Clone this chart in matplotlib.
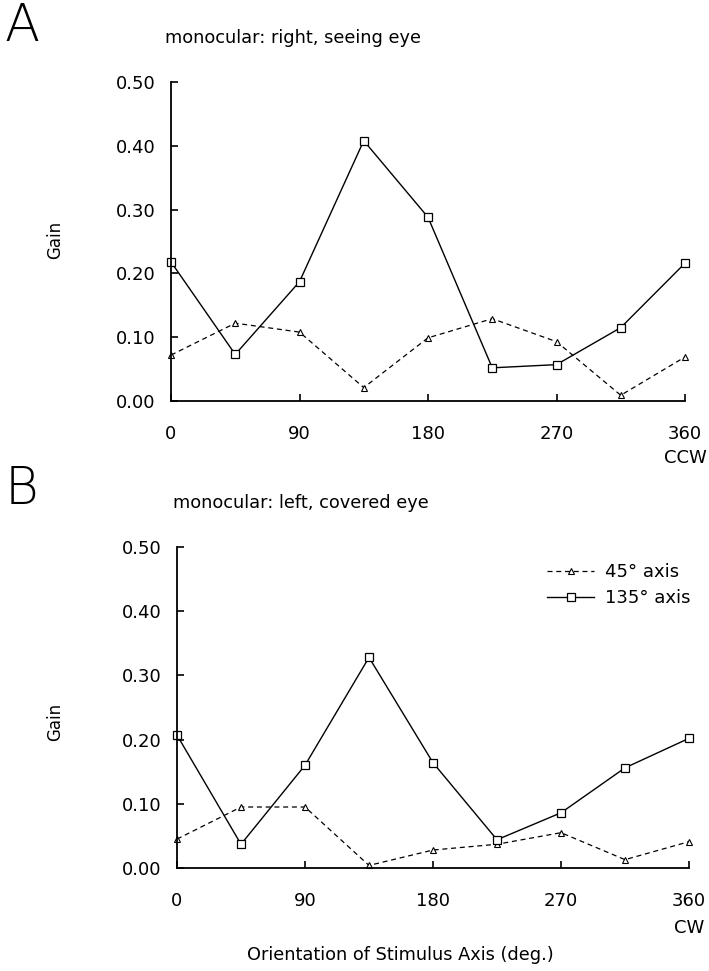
import numpy as np
import matplotlib
matplotlib.use("Agg")
import matplotlib.pyplot as plt

# ── data ----------------------------------------------------------------- #
angles = [0, 45, 90, 135, 180, 225, 270, 315, 360]

# panel A: monocular, right (seeing) eye
a_45  = [0.072, 0.122, 0.108, 0.021, 0.099, 0.129, 0.093, 0.009, 0.069]
a_135 = [0.218, 0.073, 0.187, 0.408, 0.288, 0.052, 0.057, 0.115, 0.216]

# panel B: monocular, left (covered) eye
b_45  = [0.045, 0.095, 0.095, 0.004, 0.028, 0.037, 0.055, 0.013, 0.041]
b_135 = [0.207, 0.037, 0.160, 0.328, 0.164, 0.044, 0.086, 0.156, 0.202]

xticks = [0, 90, 180, 270, 360]
yticks = [0.0, 0.1, 0.2, 0.3, 0.4, 0.5]

W, H = 709, 971
plt.rcParams["font.family"] = ["DejaVu Sans"]

fig = plt.figure(figsize=(W / 100, H / 100), dpi=100)


def px_axes(left, top, right, bottom):
    """add axes from pixel box (origin top-left)"""
    return fig.add_axes([left / W, 1 - bottom / H, (right - left) / W, (bottom - top) / H])


def draw_panel(ax, y45, y135):
    l45, = ax.plot(angles, y45, color="k", lw=0.9, ls=(0, (4, 3)),
                   marker="^", ms=4.5, mfc="white", mec="k", mew=0.8, clip_on=False)
    l135, = ax.plot(angles, y135, color="k", lw=1.0, ls="-",
                    marker="s", ms=5.5, mfc="white", mec="k", mew=0.9, clip_on=False)
    ax.set_xlim(0, 360)
    ax.set_ylim(0, 0.5)
    ax.set_xticks(xticks)
    ax.set_yticks(yticks)
    ax.set_yticklabels([f"{v:.2f}" for v in yticks])
    for s in ["top", "right"]:
        ax.spines[s].set_visible(False)
    ax.spines["left"].set_linewidth(1.3)
    ax.spines["bottom"].set_linewidth(1.3)
    ax.tick_params(axis="both", direction="in", length=5, width=1.2, labelsize=13)
    ax.tick_params(axis="y", pad=11)
    ax.tick_params(axis="x", pad=17)
    return l45, l135


# ── panel A ------------------------------------------------------------------ #
axA = px_axes(171, 82, 685, 401)
draw_panel(axA, a_45, a_135)
fig.text(4 / W, 1 - 27 / H, "A", fontsize=37, fontweight="light", va="center", ha="left")
fig.text(165 / W, 1 - 38 / H, "monocular: right, seeing eye", fontsize=12.8, va="center")
fig.text(55 / W, 1 - 240 / H, "Gain", fontsize=12, rotation=90, va="center", ha="center")
fig.text(685 / W, 1 - 458 / H, "CCW", fontsize=13, va="center", ha="center")

# ── panel B ------------------------------------------------------------------ #
axB = px_axes(177, 547, 689, 868)
l45, l135 = draw_panel(axB, b_45, b_135)
fig.text(5 / W, 1 - 490 / H, "B", fontsize=37, fontweight="light", va="center", ha="left")
fig.text(173 / W, 1 - 503 / H, "monocular: left, covered eye", fontsize=12.8, va="center")
fig.text(55 / W, 1 - 722 / H, "Gain", fontsize=12, rotation=90, va="center", ha="center")
fig.text(689 / W, 1 - 928 / H, "CW", fontsize=13, va="center", ha="center")
fig.text(400 / W, 1 - 955 / H, "Orientation of Stimulus Axis (deg.)", fontsize=12.8,
         va="center", ha="center")

axB.legend([l45, l135], ["45° axis", "135° axis"], loc="upper right",
           bbox_to_anchor=(1.035, 1.0), frameon=False, fontsize=13,
           handlelength=2.6, handletextpad=0.6, labelspacing=0.45)

fig.savefig("out.png", dpi=100)
